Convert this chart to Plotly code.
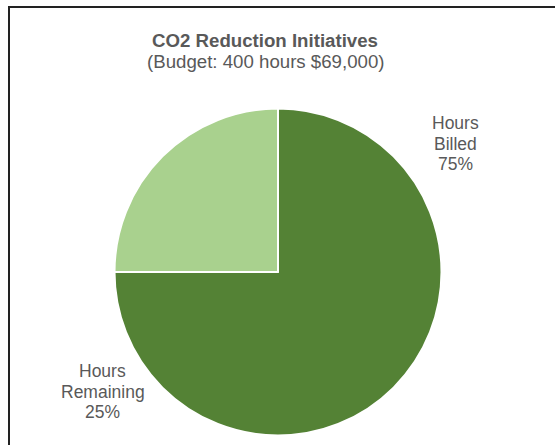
import plotly.graph_objects as go

# ---- data ----
title_text = "CO2 Reduction Initiatives"
subtitle_text = "(Budget: 400 hours $69,000)"
labels = ["Hours Billed", "Hours Remaining"]
values = [300, 100]
colors = ["#548235", "#A9D18E"]

W, H = 555, 445
cx, cy, r = 278, 272, 163.5  # pixel centre/radius of the pie (layout)

fig = go.Figure()
fig.add_trace(go.Pie(
    labels=labels,
    values=values,
    sort=False,
    direction="clockwise",
    rotation=0,
    marker=dict(colors=colors, line=dict(color="white", width=2)),
    textinfo="none",
    hoverinfo="label+percent",
    showlegend=False,
    domain=dict(x=[(cx - r) / W, (cx + r) / W],
                y=[(H - cy - r) / H, (H - cy + r) / H]),
))

font_family = "Liberation Sans, Arial, sans-serif"
grey = "#595959"
annotations = []

def px_ann(text, x, y, size, bold=False):
    annotations.append(dict(
        text=f"<b>{text}</b>" if bold else text,
        x=x / W, y=1 - y / H, xref="paper", yref="paper",
        xanchor="center", yanchor="middle", showarrow=False,
        font=dict(family=font_family, size=size, color=grey),
    ))

px_ann(title_text, 265, 40, 18.67, bold=True)
px_ann(subtitle_text, 266, 62, 18.67)

total = sum(values)
label_pos = [(455, 123), (102.5, 371)]
pitch = 20.7
for lab, v, (lx, ly) in zip(labels, values, label_pos):
    lines = lab.split(" ") + [f"{round(v / total * 100)}%"]
    for i, line in enumerate(lines):
        px_ann(line, lx, ly + i * pitch, 17.5)

fig.update_layout(
    width=W, height=H,
    margin=dict(l=0, r=0, t=0, b=0),
    paper_bgcolor="white",
    plot_bgcolor="white",
    annotations=annotations,
    shapes=[dict(type="rect", xref="paper", yref="paper",
                 x0=9 / W, x1=1.05, y0=-0.05, y1=1 - 7 / H,
                 line=dict(color="#222222", width=2))],
)

fig.write_html("out.html")
